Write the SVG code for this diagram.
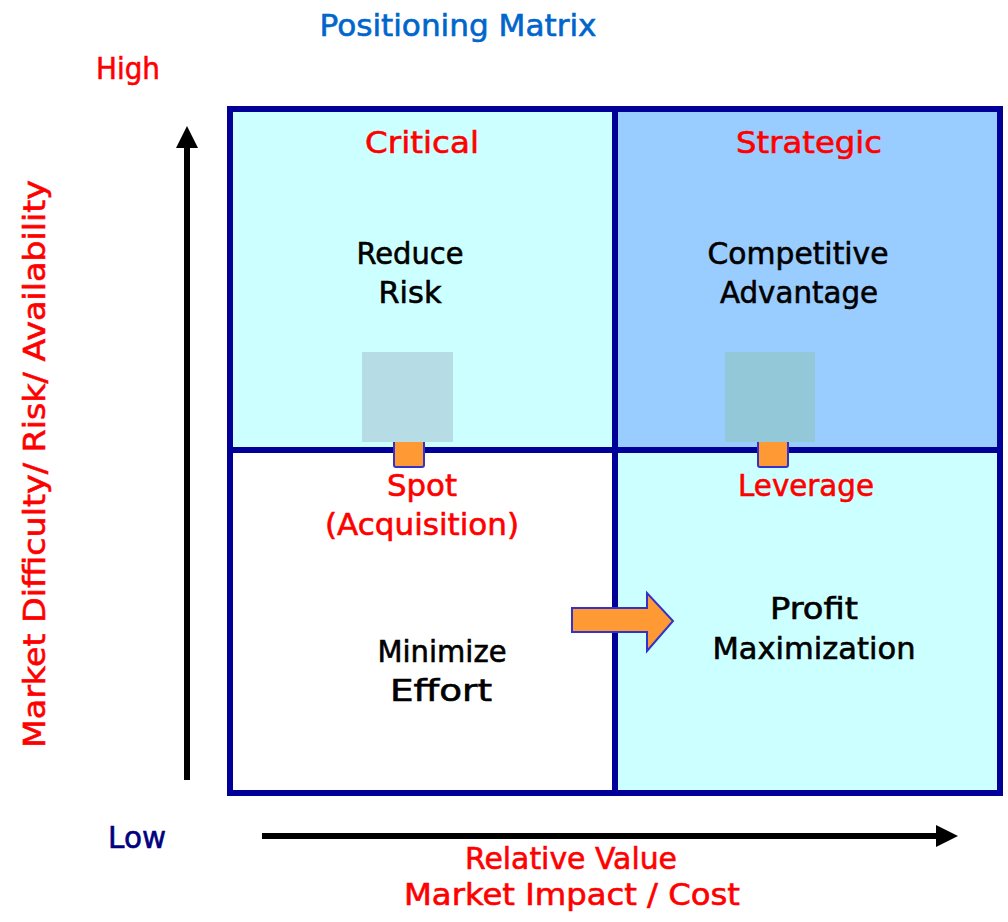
<svg xmlns="http://www.w3.org/2000/svg" width="1008" height="922" viewBox="0 0 1008 922">
<defs>
<style>
text{font-family:"DejaVu Sans","Liberation Sans",sans-serif;font-size:30px;text-anchor:middle;stroke-width:0.6px}
.red{fill:#FF0000;stroke:#FF0000}
.blk{fill:#000000;stroke:#000000}
.ttl{fill:#0066CC;stroke:#0066CC}
.low{fill:#000080;stroke:#000080}
.grid{fill:none;stroke:#000099;stroke-width:6}
.or{fill:#FF9933;stroke:#3333CC;stroke-width:2}
.ax{stroke:#000000;stroke-width:6;fill:none}
</style>
<marker id="ah" markerUnits="userSpaceOnUse" markerWidth="24" markerHeight="24" refX="2" refY="12" orient="auto" viewBox="0 0 24 24">
<path d="M0,1 L22,12 L0,23 Z" fill="#000000"/>
</marker>
</defs>
<rect width="1008" height="922" fill="#FFFFFF"/>
<text class="ttl" x="458" y="36" textLength="277" lengthAdjust="spacingAndGlyphs">Positioning Matrix</text>
<text class="red" x="128" y="79" textLength="64" lengthAdjust="spacingAndGlyphs">High</text>
<text class="low" x="137" y="848" textLength="58" lengthAdjust="spacingAndGlyphs">Low</text>
<text class="red" transform="translate(45,464) rotate(-90)" x="0" y="0" textLength="568" lengthAdjust="spacingAndGlyphs">Market Difficulty/ Risk/ Availability</text>

<g id="q-critical">
<rect x="230" y="109" width="385" height="341" fill="#CCFFFF"/>
<text class="red" x="422" y="153" textLength="114" lengthAdjust="spacingAndGlyphs">Critical</text>
<text class="blk" x="410" y="264" textLength="107" lengthAdjust="spacingAndGlyphs">Reduce</text>
<text class="blk" x="410" y="303" textLength="63" lengthAdjust="spacingAndGlyphs">Risk</text>
</g>
<g id="q-strategic">
<rect x="615" y="109" width="385" height="341" fill="#99CCFF"/>
<text class="red" x="809" y="153" textLength="146" lengthAdjust="spacingAndGlyphs">Strategic</text>
<text class="blk" x="798" y="264" textLength="181" lengthAdjust="spacingAndGlyphs">Competitive</text>
<text class="blk" x="799" y="303" textLength="158" lengthAdjust="spacingAndGlyphs">Advantage</text>
</g>
<g id="q-spot">
<rect x="230" y="450" width="385" height="343" fill="#FFFFFF"/>
<text class="red" x="422" y="496" textLength="70" lengthAdjust="spacingAndGlyphs">Spot</text>
<text class="red" x="422" y="535" textLength="194" lengthAdjust="spacingAndGlyphs">(Acquisition)</text>
<text class="blk" x="442" y="662" textLength="129" lengthAdjust="spacingAndGlyphs">Minimize</text>
<text class="blk" x="441" y="701" textLength="102" lengthAdjust="spacingAndGlyphs">Effort</text>
</g>
<g id="q-leverage">
<rect x="615" y="450" width="385" height="343" fill="#CCFFFF"/>
<text class="red" x="806" y="496" textLength="136" lengthAdjust="spacingAndGlyphs">Leverage</text>
<text class="blk" x="814" y="619" textLength="88" lengthAdjust="spacingAndGlyphs">Profit</text>
<text class="blk" x="814" y="659" textLength="203" lengthAdjust="spacingAndGlyphs">Maximization</text>
</g>
<g id="grid">
<rect class="grid" x="230" y="109" width="770" height="684"/>
<line class="grid" x1="615" y1="109" x2="615" y2="793"/>
<line class="grid" x1="230" y1="450" x2="1000" y2="450"/>
</g>
<g id="marker-critical">
<rect class="or" x="394" y="430" width="30" height="37" rx="2"/>
<rect x="362" y="352" width="91" height="90" fill="#B6DCE6"/>
</g>
<g id="marker-strategic">
<rect class="or" x="758" y="430" width="30" height="37" rx="2"/>
<rect x="725" y="352" width="90" height="90" fill="#92C8D8"/>
</g>
<g id="connectors">
<line class="ax" x1="187" y1="780" x2="187" y2="146" marker-end="url(#ah)"/>
<line class="ax" x1="262" y1="836" x2="938" y2="836" marker-end="url(#ah)"/>
<polygon class="or" points="572,608 647,608 647,593 673,621 647,651 647,632 572,632"/>
</g>
<g id="x-label">
<text class="red" x="571" y="869" textLength="212" lengthAdjust="spacingAndGlyphs">Relative Value</text>
<text class="red" x="572" y="905" textLength="336" lengthAdjust="spacingAndGlyphs">Market Impact / Cost</text>
</g>
</svg>
